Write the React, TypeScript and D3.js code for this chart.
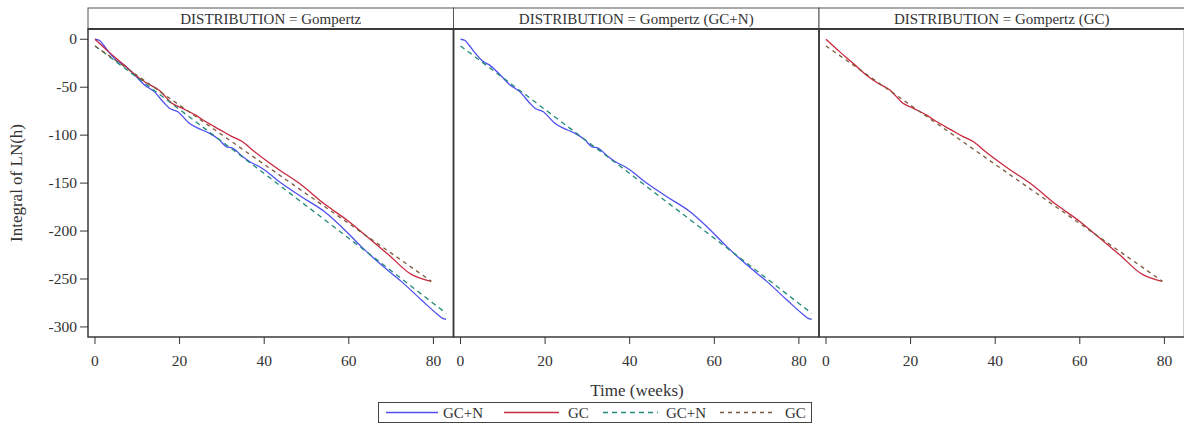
import React from "react";
import * as d3 from "d3";

// ---------- data ----------
const panelTitles = [
  "DISTRIBUTION = Gompertz",
  "DISTRIBUTION = Gompertz (GC+N)",
  "DISTRIBUTION = Gompertz (GC)",
];

const xTicks = [0, 20, 40, 60, 80];
const yTicks = [0, -50, -100, -150, -200, -250, -300];

// observed GC+N (solid blue)
const gcnObserved: [number, number][] = [
  [0, 0], [1, -1], [2, -6], [3.4, -14], [5.3, -23], [6.9, -27], [8.9, -35],
  [11.7, -47.6], [14, -54.6], [16.4, -66.7], [17.6, -71.9], [19.5, -75.4],
  [22.3, -87.5], [24.3, -92.7], [27, -97.9], [29.4, -104.9], [31, -111.9],
  [32.5, -113.5], [34.9, -122.3], [36.5, -127.5], [38.8, -132.7], [40, -136.1],
  [44, -150], [48.7, -164], [54.2, -179.6], [58.2, -195.2], [62.9, -216],
  [67.6, -235], [72.4, -252.5], [77.1, -271.6], [81, -287], [82.2, -291], [83, -292],
];

// observed GC (solid red)
const gcObserved: [number, number][] = [
  [0, 0], [3.2, -12.9], [6.4, -25], [9.5, -37.2], [12.3, -45.8], [15.1, -52.8],
  [18.2, -66.7], [20.6, -71.9], [23.7, -78.9], [26.1, -85.8], [29.6, -94.5],
  [32.4, -101.5], [34.8, -106.7], [37.5, -116.5], [41.1, -128.5], [43.5, -136],
  [48.2, -150], [54.5, -172.6], [60, -190], [64.7, -207.3], [69.4, -224.7],
  [74.9, -245.5], [76.5, -248.5], [79.5, -252.5],
];

// fitted GC+N (dashed green)
const gcnFitted: [number, number][] = [
  [0, -7], [10, -40], [20, -73.3], [30, -106.6], [40, -140], [50, -173.8],
  [60, -207.5], [70, -241.4], [80, -275.5], [83, -285.7],
];

// fitted GC (dashed brown)
const gcFitted: [number, number][] = [
  [0, -7], [10, -37.9], [20, -68.8], [30, -99.6], [40, -130.5], [50, -161.3],
  [60, -192.1], [70, -223], [79.5, -252.3],
];

const seriesNames = ["GC+N", "GC", "GC+N", "GC"];
const seriesColors = ["#4f4ff2", "#c9283f", "#1f8a78", "#7a5a38"];
const seriesDash = [null, null, "5,4", "4,4"];
const seriesData = [gcnObserved, gcObserved, gcnFitted, gcFitted];
const panelSeries = [[0, 1, 2, 3], [0, 2], [1, 3]];

// ---------- layout ----------
const W = 1184;
const H = 423;
const panelLefts = [88, 453.5, 819];
const panelW = 365.5;
const headTop = 8;
const plotTop = 29;
const plotBottom = 337;
const FONT = "'Liberation Serif', 'Times New Roman', serif";
const ink = "#333";

export default function App() {
  const y = d3.scaleLinear().domain([-310.5, 10.7]).range([plotBottom, plotTop]);

  return (
    <svg
      width={W}
      height={H}
      style={{ position: "absolute", left: 0, top: 0, background: "#fff" }}
      fontFamily={FONT}
    >
      <defs>
        {panelLefts.map((l, i) => (
          <clipPath id={`clip${i}`} key={i}>
            <rect x={l} y={plotTop} width={panelW} height={plotBottom - plotTop} />
          </clipPath>
        ))}
      </defs>

      {panelLefts.map((left, pi) => {
        const x = d3.scaleLinear().domain([-1.65, 84.75]).range([left, left + panelW]);
        const line = d3
          .line<[number, number]>()
          .x((d) => x(d[0]))
          .y((d) => y(d[1]))
          .curve(d3.curveMonotoneX);
        return (
          <g key={pi}>
            {/* header */}
            <rect x={left} y={headTop} width={panelW} height={plotTop - headTop} fill="#fff" stroke="#555" strokeWidth={1} />
            <text
              x={left + panelW / 2}
              y={(headTop + plotTop) / 2 + 5}
              textAnchor="middle"
              fontSize={15}
              fill={ink}
            >
              {panelTitles[pi]}
            </text>
            {/* series */}
            <g clipPath={`url(#clip${pi})`}>
              {panelSeries[pi].map((si) => (
                <path
                  key={si}
                  d={line(seriesData[si]) || ""}
                  fill="none"
                  stroke={seriesColors[si]}
                  strokeWidth={1.3}
                  strokeDasharray={seriesDash[si] || undefined}
                />
              ))}
            </g>
            {/* plot frame */}
            <rect x={left} y={plotTop} width={panelW} height={plotBottom - plotTop} fill="none" stroke="#3a3a3a" strokeWidth={1.5} />
            <line x1={left} x2={left + panelW} y1={plotTop} y2={plotTop} stroke="#3a3a3a" strokeWidth={2} />
            {/* x ticks */}
            {xTicks.map((t) => (
              <g key={t}>
                <line x1={x(t)} x2={x(t)} y1={plotBottom} y2={plotBottom + 7} stroke={ink} strokeWidth={1} />
                <text x={x(t)} y={plotBottom + 29} textAnchor="middle" fontSize={15.5} fill={ink}>
                  {t}
                </text>
              </g>
            ))}
          </g>
        );
      })}

      {/* y axis */}
      {yTicks.map((t) => (
        <g key={t}>
          <line x1={80} x2={88} y1={y(t)} y2={y(t)} stroke={ink} strokeWidth={1} />
          <text x={77} y={y(t) + 5} textAnchor="end" fontSize={15.5} fill={ink}>
            {t}
          </text>
        </g>
      ))}
      <text
        transform={`translate(22,${(plotTop + plotBottom) / 2}) rotate(-90)`}
        textAnchor="middle"
        fontSize={17}
        fill={ink}
      >
        Integral of LN(h)
      </text>
      <text x={637} y={396} textAnchor="middle" fontSize={17} fill={ink}>
        Time (weeks)
      </text>

      {/* legend */}
      <rect x={378.5} y={402.5} width={433} height={20} fill="#fff" stroke="#444" strokeWidth={1} />
      {[
        [386, 438, 443],
        [504, 559, 568],
        [603, 658, 666],
        [720, 772, 785],
      ].map(([x1, x2, tx], i) => (
        <g key={i}>
          <line x1={x1} x2={x2} y1={412.5} y2={412.5} stroke={seriesColors[i]} strokeWidth={1.3} strokeDasharray={seriesDash[i] || undefined} />
          <text x={tx} y={418} fontSize={15} fill={ink}>
            {seriesNames[i]}
          </text>
        </g>
      ))}
    </svg>
  );
}
